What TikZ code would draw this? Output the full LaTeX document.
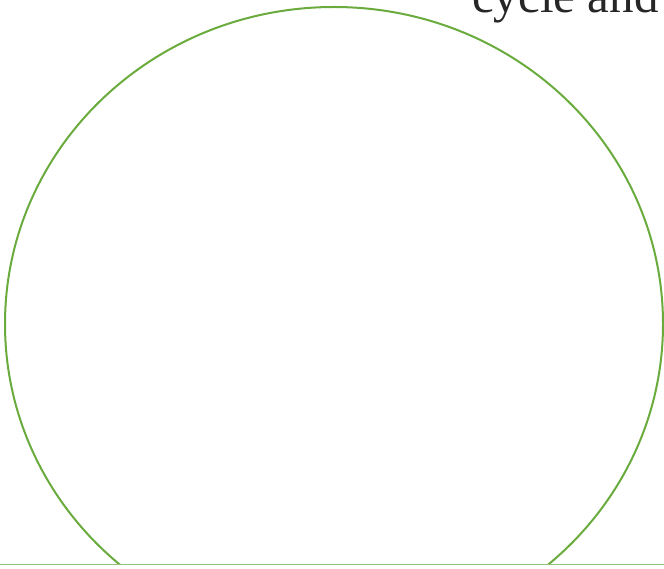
\documentclass[tikz,border=0pt]{standalone}
\usepackage{fontspec}
\setmainfont{Liberation Serif}
\usetikzlibrary{shapes.geometric}
\definecolor{ringgreen}{HTML}{6AAB3E}
\definecolor{linegreen}{HTML}{93C47D}
\tikzset{
  ringstyle/.style={draw=ringgreen, line width=2pt, ellipse, inner sep=0pt,
    minimum width=658pt, minimum height=634pt},
  labelstyle/.style={inner sep=0pt, anchor=base west, text=black!85, font=\fontsize{49}{54}\selectfont},
  basestyle/.style={draw=linegreen, line width=1.6pt}
}
\begin{document}
\begin{tikzpicture}[x=1pt,y=1pt]
\useasboundingbox (0,0) rectangle (664,568);
\clip (0,0) rectangle (664,568);
\begin{scope}
\clip (0,3.5) rectangle (664,568);
\node[ringstyle] (ring) at (334,244) {};
\end{scope}
\node[labelstyle] (label) at (472,555) {cycle and};
\coordinate (bl) at (0,3.5);
\coordinate (br) at (664,3.5);
\draw[basestyle] (bl) -- (br);
\end{tikzpicture}
\end{document}
